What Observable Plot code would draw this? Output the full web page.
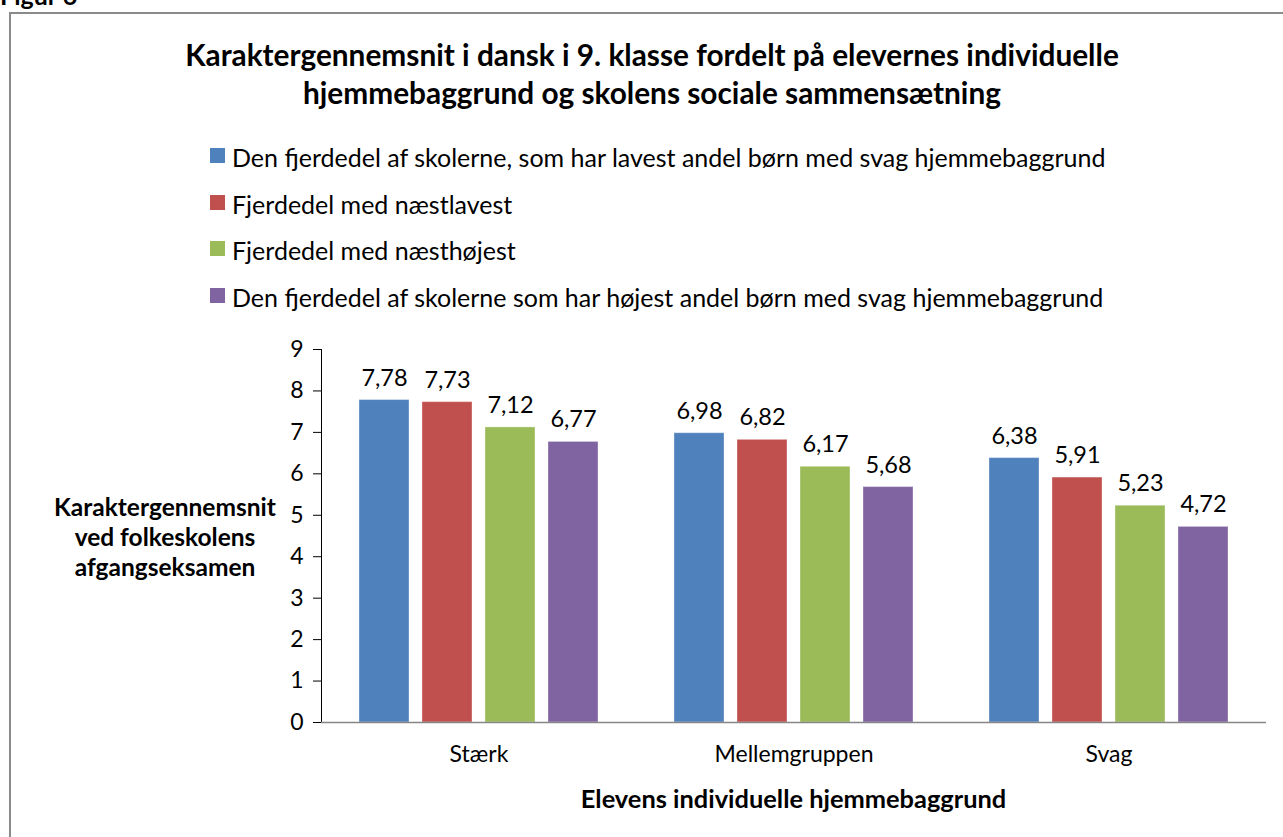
<!DOCTYPE html>
<html>
<head>
<meta charset="utf-8">
<script src="https://cdn.jsdelivr.net/npm/d3@7"></script>
<script src="https://cdn.jsdelivr.net/npm/@observablehq/plot@0.6"></script>
<style>
  html, body { margin: 0; padding: 0; background: #fff; overflow: hidden; }
  body { width: 1283px; height: 837px; position: relative; font-family: Lato, "Open Sans", sans-serif; color: #000; }
  .abs { position: absolute; }
  #figur { left: 0; top: -20px; font-weight: bold; font-size: 25px; line-height: 30px; }
  #border { left: 9px; top: 12px; width: 1400px; height: 1000px; border: 2px solid #8a8a8a; box-sizing: border-box; }
  #title { left: 0; width: 1304px; top: 36px; text-align: center; font-weight: bold; font-size: 29.8px; line-height: 38px; }
  #legend { left: 210px; top: 142px; font-size: 25px; }
  #legend .item { height: 46.7px; display: flex; align-items: flex-start; line-height: 30px; white-space: nowrap; }
  #legend .sw { width: 15px; height: 15px; margin-right: 7px; margin-top: 6px; flex: none; }
  #ytitle { left: 40px; width: 250px; top: 492px; text-align: center; font-weight: bold; font-size: 24.5px; line-height: 30px; }
  #xtitle { left: 321px; width: 945px; top: 783px; text-align: center; font-weight: bold; font-size: 25.4px; line-height: 30px; }
  #chart { left: 0; top: 330px; }
  #chart svg { overflow: visible; }
  #chart [aria-label="y-axis tick"], #chart [aria-label="frame"], #chart [aria-label="rule"] { stroke: #868686; }
</style>
</head>
<body>
<div id="figur" class="abs">Figur 6</div>
<div id="border" class="abs"></div>
<div id="title" class="abs">Karaktergennemsnit i dansk i 9. klasse fordelt på elevernes individuelle<br>hjemmebaggrund og skolens sociale sammensætning</div>
<div id="legend" class="abs"></div>
<div id="ytitle" class="abs">Karaktergennemsnit<br>ved folkeskolens<br>afgangseksamen</div>
<div id="xtitle" class="abs">Elevens individuelle hjemmebaggrund</div>
<div id="chart" class="abs"></div>
<script>
const groups = ["Stærk", "Mellemgruppen", "Svag"];
const series = [
  "Den fjerdedel af skolerne, som har lavest andel børn med svag hjemmebaggrund",
  "Fjerdedel med næstlavest",
  "Fjerdedel med næsthøjest",
  "Den fjerdedel af skolerne som har højest andel børn med svag hjemmebaggrund"
];
const colors = ["#4F81BD", "#C0504D", "#9BBB59", "#8064A2"];
const valuesLowest = [7.78, 6.98, 6.38];
const valuesSecondLowest = [7.73, 6.82, 5.91];
const valuesSecondHighest = [7.12, 6.17, 5.23];
const valuesHighest = [6.77, 5.68, 4.72];
const yTicks = [0, 1, 2, 3, 4, 5, 6, 7, 8, 9];

const seriesValues = [valuesLowest, valuesSecondLowest, valuesSecondHighest, valuesHighest];
const data = [];
groups.forEach((g, gi) => {
  series.forEach((s, si) => {
    data.push({group: g, series: s, value: seriesValues[si][gi]});
  });
});

// legend
const legend = document.getElementById("legend");
series.forEach((s, i) => {
  const item = document.createElement("div");
  item.className = "item";
  const sw = document.createElement("div");
  sw.className = "sw";
  sw.style.background = colors[i];
  const t = document.createElement("span");
  t.textContent = s;
  item.appendChild(sw);
  item.appendChild(t);
  legend.appendChild(item);
});

const fmt = v => d3.format(".2f")(v).replace(".", ",");

const chart = Plot.plot({
  width: 1283,
  height: 442,
  marginTop: 19,
  marginLeft: 321,
  marginRight: 17,
  marginBottom: 50,
  style: {fontFamily: "Lato, 'Open Sans', sans-serif", fontSize: "23px", color: "#000", background: "transparent"},
  fx: {domain: groups, padding: 0, label: null, tickSize: 0, tickPadding: 23},
  x: {domain: series, axis: null, paddingInner: 0.206, paddingOuter: 0.603},
  y: {domain: [0, 9], ticks: yTicks, tickSize: 8, tickPadding: 10, label: null, line: true},
  color: {domain: series, range: colors},
  marks: [
    Plot.barY(data, {fx: "group", x: "series", y: "value", fill: "series", stroke: "#ffffff", strokeOpacity: 0.35, strokeWidth: 1}),
    Plot.text(data, {fx: "group", x: "series", y: "value", text: d => fmt(d.value), dy: -22, fontSize: 23.5, fill: "#000"}),
    Plot.ruleY([0], {stroke: "#868686", strokeWidth: 1.5})
  ]
});
document.getElementById("chart").appendChild(chart);
</script>
</body>
</html>
